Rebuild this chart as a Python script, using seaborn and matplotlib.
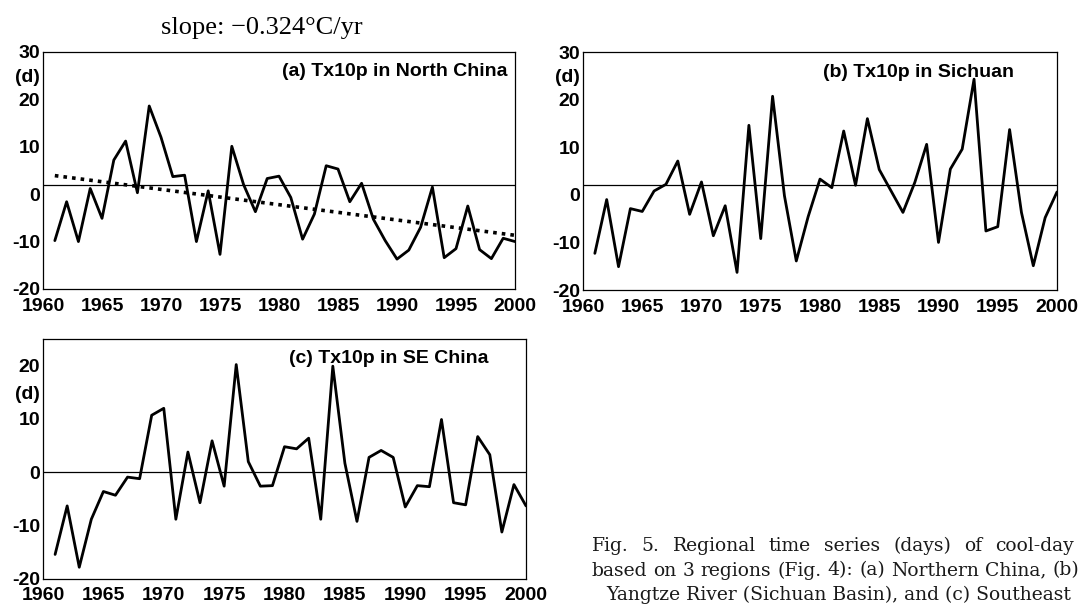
import matplotlib
matplotlib.use("Agg")
import matplotlib.pyplot as plt
import numpy as np
import pandas as pd
import seaborn as sns

# Data (days, anomalies of Tx10p)
YEARS = list(range(1961, 2001))

NORTH_CHINA = [-9.8, -1.6, -10.0, 1.2, -5.1, 7.2, 11.2, 0.3, 18.6, 12.0,
               3.7, 4.0, -10.0, 0.7, -12.7, 10.1, 2.0, -3.7, 3.3, 3.8,
               -0.7, -9.5, -4.2, 6.0, 5.3, -1.6, 2.3, -5.3, -9.8, -13.7,
               -11.8, -7.0, 1.5, -13.4, -11.5, -2.5, -11.7, -13.6, -9.3, -10.0]

SICHUAN = [-12.3, -1.0, -15.1, -2.9, -3.5, 0.8, 2.2, 7.1, -4.1, 2.7,
           -8.6, -2.3, -16.3, 14.6, -9.2, 20.7, -0.2, -13.9, -4.6, 3.3,
           1.5, 13.4, 2.0, 16.0, 5.3, 0.8, -3.7, 2.6, 10.6, -10.0,
           5.4, 9.6, 24.3, -7.6, -6.7, 13.7, -3.7, -14.9, -4.8, 0.6]

SE_CHINA = [-15.4, -6.3, -17.8, -8.8, -3.6, -4.3, -0.9, -1.2, 10.7, 12.0,
            -8.8, 3.8, -5.7, 5.9, -2.6, 20.2, 2.0, -2.6, -2.5, 4.8,
            4.4, 6.4, -8.8, 19.9, 1.7, -9.2, 2.8, 4.1, 2.8, -6.5,
            -2.5, -2.7, 9.9, -5.7, -6.1, 6.7, 3.3, -11.2, -2.3, -6.3]

PANEL_TITLES = ["(a) Tx10p in North China", "(b) Tx10p in Sichuan", "(c) Tx10p in SE China"]
REF_LEVELS = [2.0, 2.1, 0.0]
YLIMS = [(-20, 30), (-20, 30), (-20, 25)]
SLOPE_TEXT = "slope: \u22120.324\u00b0C/yr"
CAPTION = [
    "Fig. 5. Regional time series (days) of cool-day",
    "based on 3 regions (Fig. 4): (a) Northern China, (b)",
    "Yangtze River (Sichuan Basin), and (c) Southeast",
]

sns.set_style("white")
plt.rcParams.update({
    "font.family": ["Liberation Sans", "DejaVu Sans"],
    "font.weight": "bold",
    "axes.unicode_minus": False,
    "axes.edgecolor": "black",
    "axes.linewidth": 0.9,
    "text.color": "black",
    "xtick.color": "black",
    "ytick.color": "black",
    "xtick.labelcolor": "black",
    "ytick.labelcolor": "black",
})

W, H = 1081, 609
fig = plt.figure(figsize=(W / 100, H / 100), dpi=100)
fig.patch.set_facecolor("white")

# axes rectangles in figure fraction
rects = [
    [0.0398, 0.5255, 0.4366, 0.3892],
    [0.5393, 0.5238, 0.4385, 0.3908],
    [0.0398, 0.0493, 0.4468, 0.3941],
]
series = [NORTH_CHINA, SICHUAN, SE_CHINA]
title_pos = [(0.745, 0.916), (0.707, 0.916), (0.716, 0.918)]
xpads = [6.5, 6.5, 6.0]

for i, (rect, vals) in enumerate(zip(rects, series)):
    ax = fig.add_axes(rect)
    df = pd.DataFrame({"year": YEARS, "value": vals})
    sns.lineplot(data=df, x="year", y="value", ax=ax, color="black", lw=2.0)
    ax.axhline(REF_LEVELS[i], color="black", lw=0.9)

    if i == 0:
        coeffs = np.polyfit(df["year"], df["value"], 1)
        df["trend"] = np.polyval(coeffs, df["year"])
        sns.lineplot(data=df, x="year", y="trend", ax=ax, color="black",
                     lw=2.6, linestyle=(0, (1, 1.4)))

    lo, hi = YLIMS[i]
    ax.set_xlim(1960, 2000)
    ax.set_ylim(lo, hi)
    yt = np.arange(lo, hi + 1, 5)
    labels = []
    for v in yt:
        if v % 10 == 0:
            labels.append(str(int(v)))
        elif (i < 2 and v == 25) or (i == 2 and v == 15):
            labels.append("(d)")
        else:
            labels.append("")
    ax.set_yticks(yt)
    ax.set_yticklabels(labels)
    ax.set_xticks(range(1960, 2001, 5))
    ax.set_xticks(range(1960, 2001), minor=True)
    ax.tick_params(axis="both", which="major", direction="in", length=6,
                   width=0.9, labelsize=14, top=False, right=False)
    ax.tick_params(axis="x", which="major", pad=xpads[i])
    ax.tick_params(axis="y", which="major", length=4, pad=2)
    ax.tick_params(axis="x", which="minor", direction="in", length=3.5,
                   width=0.8, top=False)
    for lab in ax.get_xticklabels() + ax.get_yticklabels():
        lab.set_fontweight("bold")
    ax.set_xlabel("")
    ax.set_ylabel("")
    for sp in ax.spines.values():
        sp.set_visible(True)
        sp.set_color("black")
    ax.text(title_pos[i][0], title_pos[i][1], PANEL_TITLES[i], transform=ax.transAxes,
            ha="center", va="center", fontsize=14, fontweight="bold")

fig.text(262 / W, 1 - 28 / H, SLOPE_TEXT, ha="center", va="center",
         fontsize=19, family=["Liberation Serif", "DejaVu Serif"], fontweight="normal")

# caption: first two lines justified, third line indented
renderer = fig.canvas.get_renderer()
cap_kw = dict(va="center", fontsize=13.5, family=["DejaVu Serif"],
              fontweight="normal", color="#1a1a1a")
cap_left = [592, 592, 606]
cap_right = [1074, 1079, None]
for k, line in enumerate(CAPTION):
    y = 1 - (546 + 24.5 * k) / H
    if cap_right[k] is None:
        fig.text(cap_left[k] / W, y, line, ha="left", **cap_kw)
        continue
    words = line.split(" ")
    texts = [fig.text(0, y, wd, ha="left", **cap_kw) for wd in words]
    widths = [t.get_window_extent(renderer).width for t in texts]
    gap = (cap_right[k] - cap_left[k] - sum(widths)) / (len(words) - 1)
    x = cap_left[k]
    for t, w in zip(texts, widths):
        t.set_x(x / W)
        x += w + gap

fig.savefig("out.png", dpi=100, facecolor="white")
